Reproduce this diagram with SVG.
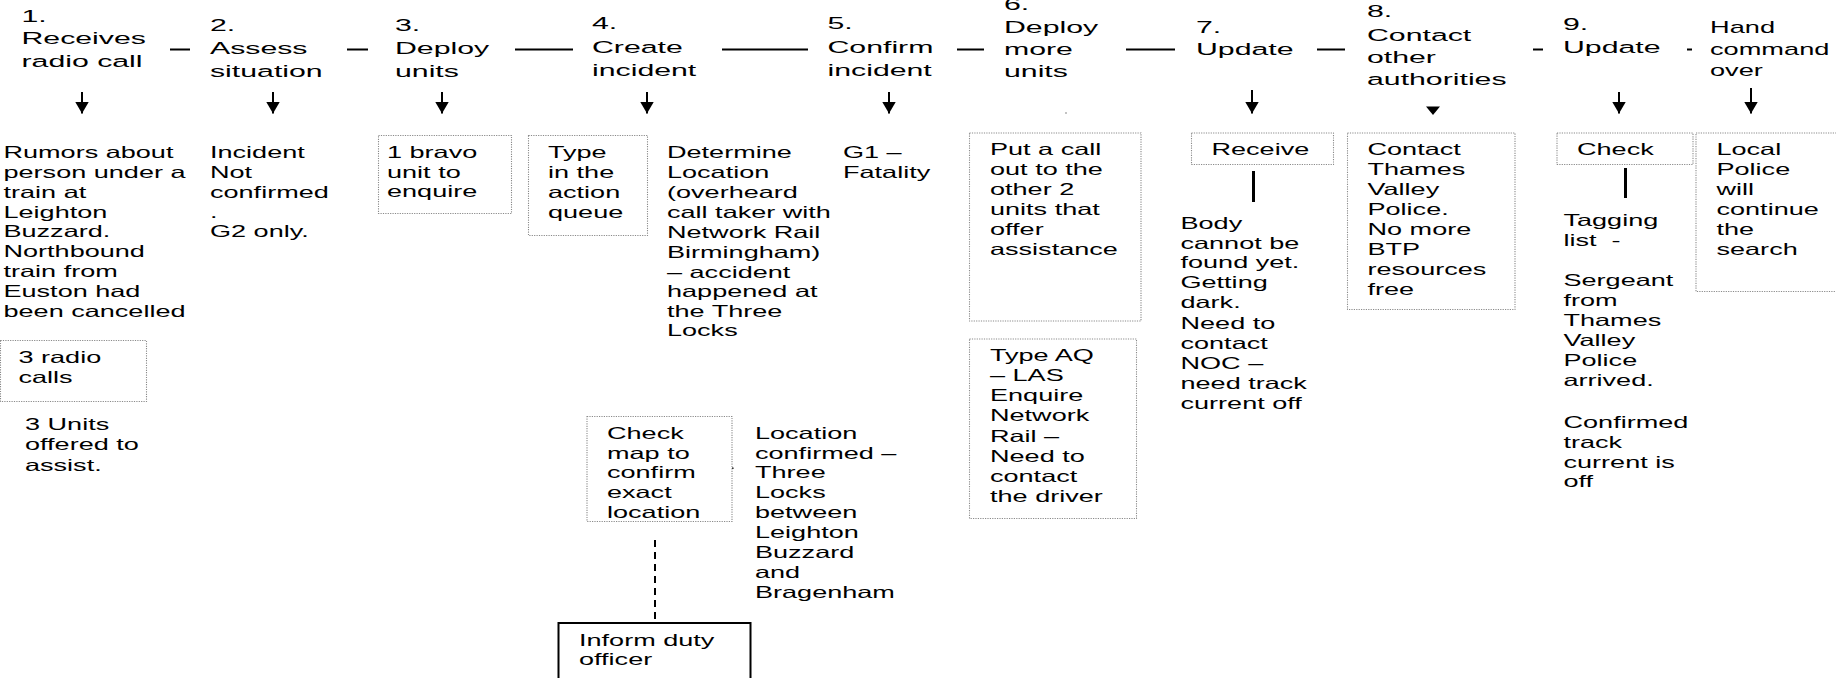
<svg xmlns="http://www.w3.org/2000/svg" width="1836" height="678" viewBox="0 0 1836 678">
<style>
.h{font-family:"Liberation Sans",Arial,sans-serif;font-size:17px;fill:#000}
.b{font-family:"Liberation Sans",Arial,sans-serif;font-size:16.5px;fill:#000}
.dot{fill:none;stroke:#8a8a8a;stroke-width:1.1;stroke-dasharray:1.2 1.2}
.ln{stroke:#000;stroke-width:2;fill:none}
.vl{stroke:#000;stroke-width:3;fill:none}
.dash{stroke:#000;stroke-width:2;fill:none;stroke-dasharray:7 5}
.solid{fill:none;stroke:#000;stroke-width:2}
</style>
<defs>
<marker id="ah" markerUnits="userSpaceOnUse" viewBox="0 0 12 14" refX="12" refY="7" markerWidth="12" markerHeight="14" orient="auto">
<path d="M0,0 L12,7 L0,14 Z" fill="#000"/>
</marker>
</defs>
<rect width="1836" height="678" fill="#fff"/>

<g id="connectors">
<line class="ln" x1="170" y1="49.5" x2="190" y2="49.5"/>
<line class="ln" x1="347" y1="49.5" x2="368" y2="49.5"/>
<line class="ln" x1="515" y1="49.5" x2="573" y2="49.5"/>
<line class="ln" x1="722" y1="49.5" x2="808" y2="49.5"/>
<line class="ln" x1="957" y1="49.5" x2="984" y2="49.5"/>
<line class="ln" x1="1126" y1="49.5" x2="1175" y2="49.5"/>
<line class="ln" x1="1317" y1="49.5" x2="1345" y2="49.5"/>
<line class="ln" x1="1533" y1="49.5" x2="1543" y2="49.5"/>
<line class="ln" x1="1687" y1="49.5" x2="1692" y2="49.5"/>
<line class="ln" x1="82" y1="92" x2="82" y2="113.5" marker-end="url(#ah)"/>
<line class="ln" x1="273" y1="92" x2="273" y2="113.5" marker-end="url(#ah)"/>
<line class="ln" x1="442" y1="92" x2="442" y2="113.5" marker-end="url(#ah)"/>
<line class="ln" x1="647" y1="92" x2="647" y2="113.5" marker-end="url(#ah)"/>
<line class="ln" x1="889" y1="92" x2="889" y2="113.5" marker-end="url(#ah)"/>
<circle cx="1066" cy="113" r="0.8" fill="#777"/>
<line class="ln" x1="1252" y1="90" x2="1252" y2="113.5" marker-end="url(#ah)"/>
<polygon points="1426,106.5 1440,106.5 1433,115" fill="#000"/>
<line class="ln" x1="1619" y1="92" x2="1619" y2="113.5" marker-end="url(#ah)"/>
<line class="ln" x1="1751" y1="88" x2="1751" y2="113.5" marker-end="url(#ah)"/>
<line class="vl" x1="1253.5" y1="171" x2="1253.5" y2="202"/>
<line class="vl" x1="1625.5" y1="168" x2="1625.5" y2="198"/>
<line class="dash" x1="655" y1="540" x2="655" y2="622"/>
<rect x="732" y="467.5" width="1.5" height="1.5" fill="#000"/>
</g>

<g id="n1">
<text class="h" transform="matrix(1.78 0 0 1 21.5 0)"><tspan x="0" y="22">1.</tspan><tspan x="0" y="44.5">Receives</tspan><tspan x="0" y="67">radio call</tspan></text>
</g>
<g id="n2">
<text class="h" transform="matrix(1.78 0 0 1 210 0)"><tspan x="0" y="31.5">2.</tspan><tspan x="0" y="54.5">Assess</tspan><tspan x="0" y="77">situation</tspan></text>
</g>
<g id="n3">
<text class="h" transform="matrix(1.78 0 0 1 395 0)"><tspan x="0" y="31.5">3.</tspan><tspan x="0" y="54.5">Deploy</tspan><tspan x="0" y="77">units</tspan></text>
</g>
<g id="n4">
<text class="h" transform="matrix(1.78 0 0 1 592 0)"><tspan x="0" y="29.5">4.</tspan><tspan x="0" y="53">Create</tspan><tspan x="0" y="76.5">incident</tspan></text>
</g>
<g id="n5">
<text class="h" transform="matrix(1.78 0 0 1 827.5 0)"><tspan x="0" y="29.5">5.</tspan><tspan x="0" y="53">Confirm</tspan><tspan x="0" y="76.5">incident</tspan></text>
</g>
<g id="n6">
<text class="h" transform="matrix(1.78 0 0 1 1004 0)"><tspan x="0" y="9.5">6.</tspan><tspan x="0" y="33">Deploy</tspan><tspan x="0" y="55">more</tspan><tspan x="0" y="77">units</tspan></text>
</g>
<g id="n7">
<text class="h" transform="matrix(1.78 0 0 1 1196 0)"><tspan x="0" y="33">7.</tspan><tspan x="0" y="55">Update</tspan></text>
</g>
<g id="n8">
<text class="h" transform="matrix(1.78 0 0 1 1367 0)"><tspan x="0" y="17.5">8.</tspan><tspan x="0" y="41.5">Contact</tspan><tspan x="0" y="63.5">other</tspan><tspan x="0" y="85">authorities</tspan></text>
</g>
<g id="n9">
<text class="h" transform="matrix(1.78 0 0 1 1563 0)"><tspan x="0" y="30">9.</tspan><tspan x="0" y="53">Update</tspan></text>
</g>
<g id="n10">
<text class="h" transform="matrix(1.6 0 0 1 1710 0)"><tspan x="0" y="33">Hand</tspan><tspan x="0" y="55">command</tspan><tspan x="0" y="76">over</tspan></text>
</g>

<g id="d1">
<text class="b" transform="matrix(1.64 0 0 1 3.5 0)"><tspan x="0" y="158">Rumors about</tspan><tspan x="0" y="178">person under a</tspan><tspan x="0" y="198">train at</tspan><tspan x="0" y="218">Leighton</tspan><tspan x="0" y="237.5">Buzzard.</tspan><tspan x="0" y="257.5">Northbound</tspan><tspan x="0" y="277.5">train from</tspan><tspan x="0" y="297">Euston had</tspan><tspan x="0" y="317">been cancelled</tspan></text>
</g>
<g id="d1b">
<rect class="dot" x="0.5" y="340.5" width="146" height="61"/>
<text class="b" transform="matrix(1.64 0 0 1 18.5 0)"><tspan x="0" y="363.5">3 radio</tspan><tspan x="0" y="383">calls</tspan></text>
</g>
<g id="d1c">
<text class="b" transform="matrix(1.64 0 0 1 25 0)"><tspan x="0" y="430.5">3 Units</tspan><tspan x="0" y="450.5">offered to</tspan><tspan x="0" y="471">assist.</tspan></text>
</g>
<g id="d2">
<text class="b" transform="matrix(1.64 0 0 1 210 0)"><tspan x="0" y="158">Incident</tspan><tspan x="0" y="178">Not</tspan><tspan x="0" y="198">confirmed</tspan><tspan x="0" y="218">.</tspan><tspan x="0" y="237.5">G2 only.</tspan></text>
</g>
<g id="d3">
<rect class="dot" x="378.5" y="135.5" width="133" height="78"/>
<text class="b" transform="matrix(1.64 0 0 1 387 0)"><tspan x="0" y="158">1 bravo</tspan><tspan x="0" y="178">unit to</tspan><tspan x="0" y="197.5">enquire</tspan></text>
</g>
<g id="d4a">
<rect class="dot" x="528.5" y="135.5" width="119" height="100"/>
<text class="b" transform="matrix(1.64 0 0 1 548 0)"><tspan x="0" y="158">Type</tspan><tspan x="0" y="178">in the</tspan><tspan x="0" y="198">action</tspan><tspan x="0" y="218">queue</tspan></text>
</g>
<g id="d4b">
<text class="b" transform="matrix(1.64 0 0 1 667 0)"><tspan x="0" y="158">Determine</tspan><tspan x="0" y="178">Location</tspan><tspan x="0" y="198">(overheard</tspan><tspan x="0" y="218">call taker with</tspan><tspan x="0" y="238">Network Rail</tspan><tspan x="0" y="258">Birmingham)</tspan><tspan x="0" y="278">– accident</tspan><tspan x="0" y="297.5">happened at</tspan><tspan x="0" y="317">the Three</tspan><tspan x="0" y="336.5">Locks</tspan></text>
</g>
<g id="d4c">
<rect class="dot" x="587" y="416.5" width="145" height="105"/>
<text class="b" transform="matrix(1.64 0 0 1 607 0)"><tspan x="0" y="439.5">Check</tspan><tspan x="0" y="459">map to</tspan><tspan x="0" y="478.5">confirm</tspan><tspan x="0" y="498">exact</tspan><tspan x="0" y="518">location</tspan></text>
</g>
<g id="d4d">
<text class="b" transform="matrix(1.64 0 0 1 755 0)"><tspan x="0" y="439.5">Location</tspan><tspan x="0" y="459">confirmed –</tspan><tspan x="0" y="478.5">Three</tspan><tspan x="0" y="498">Locks</tspan><tspan x="0" y="518">between</tspan><tspan x="0" y="538">Leighton</tspan><tspan x="0" y="558">Buzzard</tspan><tspan x="0" y="578">and</tspan><tspan x="0" y="598">Bragenham</tspan></text>
</g>
<g id="d4e">
<rect class="solid" x="558.5" y="623" width="192" height="70"/>
<text class="b" transform="matrix(1.64 0 0 1 579 0)"><tspan x="0" y="646.5">Inform duty</tspan><tspan x="0" y="665.5">officer</tspan></text>
</g>
<g id="d5">
<text class="b" transform="matrix(1.64 0 0 1 843 0)"><tspan x="0" y="158">G1 –</tspan><tspan x="0" y="178">Fatality</tspan></text>
</g>
<g id="d6a">
<rect class="dot" x="969.5" y="133" width="171.5" height="188"/>
<text class="b" transform="matrix(1.64 0 0 1 990 0)"><tspan x="0" y="155">Put a call</tspan><tspan x="0" y="175">out to the</tspan><tspan x="0" y="195">other 2</tspan><tspan x="0" y="215">units that</tspan><tspan x="0" y="235">offer</tspan><tspan x="0" y="255">assistance</tspan></text>
</g>
<g id="d6b">
<rect class="dot" x="969.5" y="339" width="167" height="179.5"/>
<text class="b" transform="matrix(1.64 0 0 1 990 0)"><tspan x="0" y="361.5">Type AQ</tspan><tspan x="0" y="381.5">– LAS</tspan><tspan x="0" y="401.5">Enquire</tspan><tspan x="0" y="421.5">Network</tspan><tspan x="0" y="442">Rail –</tspan><tspan x="0" y="462.5">Need to</tspan><tspan x="0" y="482.5">contact</tspan><tspan x="0" y="502.5">the driver</tspan></text>
</g>
<g id="d7a">
<rect class="dot" x="1191.5" y="133" width="142" height="31.5"/>
<text class="b" transform="matrix(1.64 0 0 1 1211.5 0)"><tspan x="0" y="155">Receive</tspan></text>
</g>
<g id="d7b">
<text class="b" transform="matrix(1.64 0 0 1 1180.5 0)"><tspan x="0" y="229">Body</tspan><tspan x="0" y="249">cannot be</tspan><tspan x="0" y="268.5">found yet.</tspan><tspan x="0" y="288.5">Getting</tspan><tspan x="0" y="308.5">dark.</tspan><tspan x="0" y="329">Need to</tspan><tspan x="0" y="349">contact</tspan><tspan x="0" y="369">NOC –</tspan><tspan x="0" y="389">need track</tspan><tspan x="0" y="409">current off</tspan></text>
</g>
<g id="d8">
<rect class="dot" x="1347.5" y="133" width="167.5" height="176.5"/>
<text class="b" transform="matrix(1.64 0 0 1 1367.5 0)"><tspan x="0" y="155">Contact</tspan><tspan x="0" y="175">Thames</tspan><tspan x="0" y="195">Valley</tspan><tspan x="0" y="215">Police.</tspan><tspan x="0" y="235">No more</tspan><tspan x="0" y="255">BTP</tspan><tspan x="0" y="275">resources</tspan><tspan x="0" y="295">free</tspan></text>
</g>
<g id="d9a">
<rect class="dot" x="1557" y="133" width="136" height="31.5"/>
<text class="b" transform="matrix(1.64 0 0 1 1577 0)"><tspan x="0" y="155">Check</tspan></text>
</g>
<g id="d9b">
<text class="b" transform="matrix(1.64 0 0 1 1563.5 0)" xml:space="preserve"><tspan x="0" y="226">Tagging</tspan><tspan x="0" y="246">list  -</tspan><tspan x="0" y="286.5">Sergeant</tspan><tspan x="0" y="306.5">from</tspan><tspan x="0" y="326.5">Thames</tspan><tspan x="0" y="346.5">Valley</tspan><tspan x="0" y="366.5">Police</tspan><tspan x="0" y="386.5">arrived.</tspan><tspan x="0" y="428">Confirmed</tspan><tspan x="0" y="448">track</tspan><tspan x="0" y="468">current is</tspan><tspan x="0" y="487">off</tspan></text>
</g>
<g id="d10">
<rect class="dot" x="1696" y="133" width="145" height="158.5"/>
<text class="b" transform="matrix(1.64 0 0 1 1716.5 0)"><tspan x="0" y="155">Local</tspan><tspan x="0" y="175">Police</tspan><tspan x="0" y="195">will</tspan><tspan x="0" y="215">continue</tspan><tspan x="0" y="235">the</tspan><tspan x="0" y="255">search</tspan></text>
</g>
</svg>
